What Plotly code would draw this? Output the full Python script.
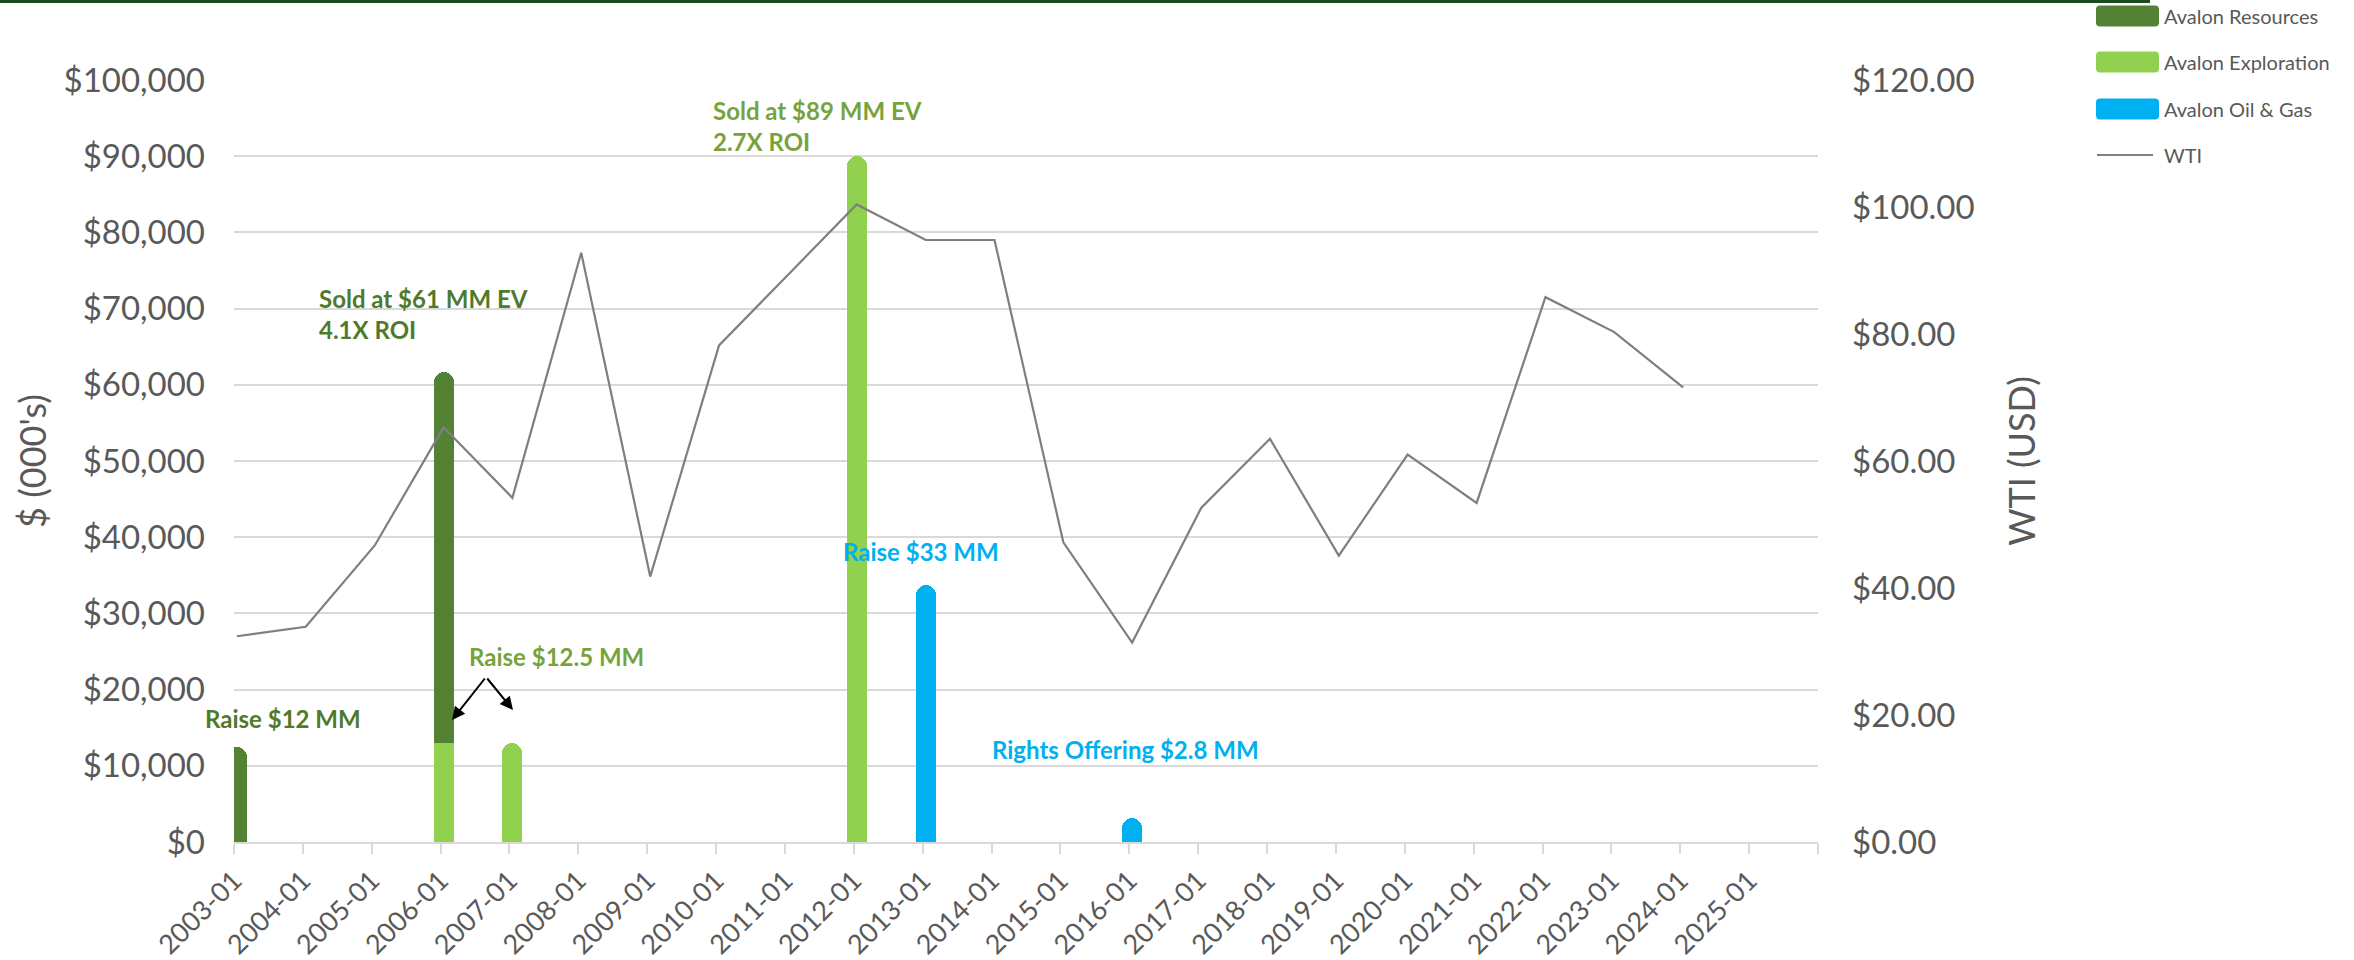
import plotly.graph_objects as go

# ---------------- data ----------------
res_dates = ["2003-01", "2006-01"]
res_vals = [12500, 61700]

exp_dates = ["2006-01", "2007-01", "2012-01"]
exp_vals = [13000, 13000, 90000]

og_dates = ["2013-01", "2016-01"]
og_vals = [33700, 3200]

wti_dates = ["2003-01", "2004-01", "2005-01", "2006-01", "2007-01", "2008-01",
             "2009-01", "2010-01", "2011-01", "2012-01", "2013-01", "2014-01",
             "2015-01", "2016-01", "2017-01", "2018-01", "2019-01", "2020-01",
             "2021-01", "2022-01", "2023-01", "2024-01"]
wti_vals = [32.4, 33.9, 46.7, 65.3, 54.2, 92.8, 41.8, 78.2, 89.3, 100.4, 94.8,
            94.8, 47.2, 31.4, 52.6, 63.5, 45.1, 61.0, 53.4, 85.8, 80.3, 71.6]

x_tick_labels = ["2003-01", "2004-01", "2005-01", "2006-01", "2007-01", "2008-01",
                 "2009-01", "2010-01", "2011-01", "2012-01", "2013-01", "2014-01",
                 "2015-01", "2016-01", "2017-01", "2018-01", "2019-01", "2020-01",
                 "2021-01", "2022-01", "2023-01", "2024-01", "2025-01"]

series_names = ["Avalon Resources", "Avalon Exploration", "Avalon Oil & Gas", "WTI"]

# ---------------- styling ----------------
C_RES = "#548235"
C_EXP = "#92D050"
C_OG = "#00B0F0"
C_WTI = "#7F7F7F"
C_TXT = "#595959"
C_GRID = "#D9D9D9"
T_RES = "#4F7A2C"
T_EXP = "#77A33C"
T_OG = "#00B0F0"
FONT = "Lato"

W, H = 2354, 960
L, R, T, B = 234, 1818, 80, 842


def px(x):
    return (x - L) / (R - L)


def py(y):
    return (B - y) / (B - T)


BAR_W = 0.29 * 365.25 * 86400000  # bar width in ms

fig = go.Figure()

bar_common = dict(xperiod="M1", xperiodalignment="middle", width=BAR_W,
                  showlegend=False, hoverinfo="x+y")
fig.add_trace(go.Bar(x=res_dates, y=res_vals, name=series_names[0],
                     marker=dict(color=C_RES, cornerradius=10, line=dict(width=0)),
                     **bar_common))
fig.add_trace(go.Bar(x=exp_dates, y=exp_vals, name=series_names[1],
                     marker=dict(color=C_EXP, cornerradius=10, line=dict(width=0)),
                     **bar_common))
fig.add_trace(go.Bar(x=og_dates, y=og_vals, name=series_names[2],
                     marker=dict(color=C_OG, cornerradius=10, line=dict(width=0)),
                     **bar_common))
fig.add_trace(go.Scatter(x=wti_dates, y=wti_vals, name=series_names[3], yaxis="y2",
                         mode="lines", line=dict(color=C_WTI, width=2.2),
                         xperiod="M1", xperiodalignment="middle", showlegend=False))

annotations = []


def note(text, x, y, color, size=24):
    annotations.append(dict(text=text, x=px(x), y=py(y), xref="paper", yref="paper",
                            xanchor="left", yanchor="middle", showarrow=False,
                            align="left", font=dict(family=FONT, size=size, color=color)))


note("<b>Raise $12 MM</b>", 203, 718, T_RES)
note("<b>Sold at $61 MM EV<br>4.1X ROI</b>", 317, 314, T_RES)
note("<b>Raise $12.5 MM</b>", 467, 656, T_EXP)
note("<b>Sold at $89 MM EV<br>2.7X ROI</b>", 711, 126, T_EXP)
note("<b>Raise $33 MM</b>", 841, 551, T_OG)
note("<b>Rights Offering $2.8 MM</b>", 990, 749, T_OG)

# arrows (tips near the two $12.5 MM bars, tails at a common apex)
apex = (486, 677)
for tip in [(452, 720), (513, 710)]:
    annotations.append(dict(text="", x=px(tip[0]), y=py(tip[1]), xref="paper", yref="paper",
                            showarrow=True, arrowhead=2, arrowsize=1.3, arrowwidth=2,
                            arrowcolor="#000000", ax=apex[0] - tip[0], ay=apex[1] - tip[1],
                            axref="pixel", ayref="pixel"))

# manual legend
shapes = []
sw, sh, rr = 63, 21, 4
rect_path = (f"M{-sw/2+rr},{-sh/2} L{sw/2-rr},{-sh/2} Q{sw/2},{-sh/2} {sw/2},{-sh/2+rr} "
             f"L{sw/2},{sh/2-rr} Q{sw/2},{sh/2} {sw/2-rr},{sh/2} L{-sw/2+rr},{sh/2} "
             f"Q{-sw/2},{sh/2} {-sw/2},{sh/2-rr} L{-sw/2},{-sh/2+rr} Q{-sw/2},{-sh/2} {-sw/2+rr},{-sh/2} Z")
leg_y = [16, 62, 109, 155]
leg_cols = [C_RES, C_EXP, C_OG]
for i, col in enumerate(leg_cols):
    shapes.append(dict(type="path", path=rect_path, xref="paper", yref="paper",
                       xsizemode="pixel", ysizemode="pixel",
                       xanchor=px(2127.5), yanchor=py(leg_y[i]),
                       fillcolor=col, line=dict(width=0), layer="above"))
shapes.append(dict(type="line", xref="paper", yref="paper", x0=px(2097), x1=px(2153),
                   y0=py(leg_y[3]), y1=py(leg_y[3]), line=dict(color=C_WTI, width=2.2)))
for i, name in enumerate(series_names):
    annotations.append(dict(text=name, x=px(2162), y=py(leg_y[i]), xref="paper", yref="paper",
                            xanchor="left", yanchor="middle", showarrow=False,
                            font=dict(family=FONT, size=20, color=C_TXT)))

# top dark green rule
shapes.append(dict(type="line", xref="paper", yref="paper", x0=px(0), x1=px(2150),
                   y0=py(1.5), y1=py(1.5), line=dict(color="#1B4A1B", width=3)))

fig.update_layout(
    width=W, height=H,
    margin=dict(l=L, r=W - R, t=T, b=H - B, pad=0),
    paper_bgcolor="white", plot_bgcolor="white",
    barmode="overlay", bargap=0,
    font=dict(family=FONT, color=C_TXT),
    showlegend=False,
    annotations=annotations,
    shapes=shapes,
    xaxis=dict(type="date", range=["2003-01-01", "2026-01-01"],
               tickvals=[lbl + "-01" for lbl in x_tick_labels], ticktext=x_tick_labels,
               tickangle=-45, tickfont=dict(family=FONT, size=27, color=C_TXT),
               showgrid=False, showline=True, linecolor=C_GRID, linewidth=2,
               ticks="outside", ticklen=10, tickwidth=2, tickcolor=C_GRID,
               minor=dict(dtick="M12", tick0="2003-01-01", ticks="outside", ticklen=10,
                          tickwidth=2, tickcolor=C_GRID, showgrid=False),
               automargin=False, fixedrange=True),
    yaxis=dict(range=[0, 100000], dtick=10000, tickprefix="$", tickformat=",.0f",
               tickfont=dict(family=FONT, size=33, color=C_TXT),
               showgrid=True, gridcolor=C_GRID, gridwidth=2, zeroline=False,
               showline=False, ticks="", ticklabelstandoff=28,
               title=dict(text="$ (000's)", font=dict(family=FONT, size=36, color=C_TXT),
                          standoff=5),
               automargin=False, fixedrange=True),
    yaxis2=dict(range=[0, 120], dtick=20, tickprefix="$", tickformat=",.2f",
                overlaying="y", side="right",
                tickfont=dict(family=FONT, size=33, color=C_TXT),
                showgrid=False, zeroline=False, showline=False, ticks="",
                ticklabelstandoff=33,
                title=dict(text="WTI (USD)", font=dict(family=FONT, size=36, color=C_TXT),
                           standoff=36),
                automargin=False, fixedrange=True),
)

fig.write_html("out.html", config={"displayModeBar": False},
               post_script="document.body.style.margin='0';")
